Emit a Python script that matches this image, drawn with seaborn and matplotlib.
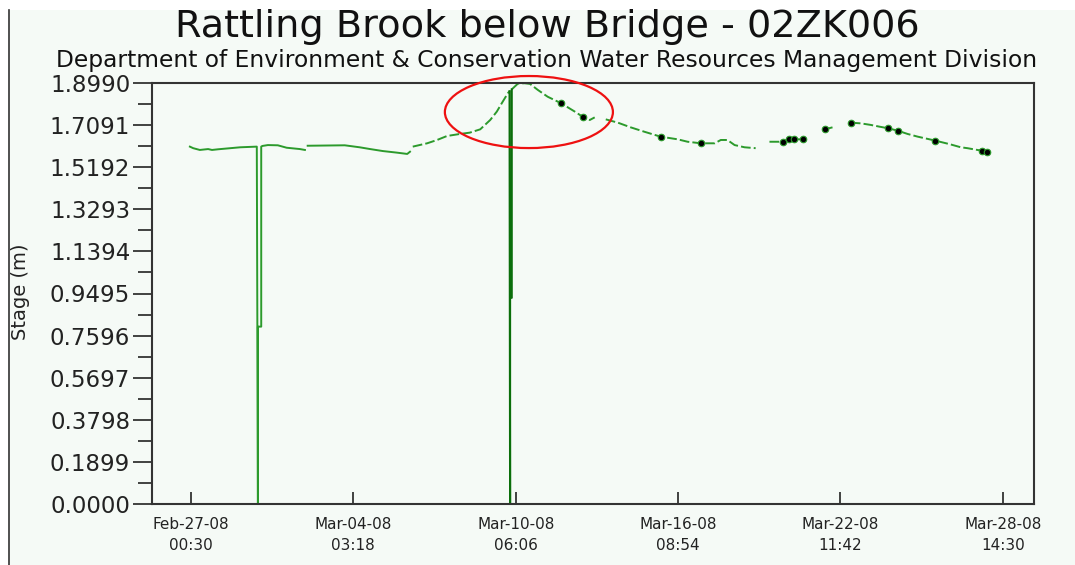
import matplotlib
matplotlib.use("Agg")
import matplotlib.pyplot as plt
import matplotlib.dates as mdates
from matplotlib.patches import Ellipse, Rectangle
from matplotlib.lines import Line2D
import numpy as np
import pandas as pd
import seaborn as sns

# ---- Stage record for Rattling Brook below Bridge (02ZK006) ----
# Each logged segment is kept separate so gaps in the record stay visible.
seg_a_times = ["2008-02-26 23:30", "2008-02-27 02:30", "2008-02-27 08:30", "2008-02-27 16:00",
               "2008-02-27 19:30", "2008-02-28 01:00", "2008-02-28 21:00", "2008-02-29 12:00",
               "2008-02-29 13:00", "2008-02-29 13:00", "2008-02-29 16:00", "2008-02-29 16:00",
               "2008-02-29 17:00", "2008-02-29 22:00", "2008-03-01 07:00", "2008-03-01 15:00",
               "2008-03-02 03:00", "2008-03-02 07:30"]
seg_a_stage = [1.612, 1.605, 1.597, 1.601, 1.597, 1.600, 1.609, 1.612,
               0.000, 0.800, 0.800, 1.612, 1.615, 1.619, 1.618, 1.607, 1.601, 1.597]

seg_b_times = ["2008-03-02 10:00", "2008-03-03 19:30", "2008-03-04 09:00", "2008-03-04 18:30",
               "2008-03-05 06:00", "2008-03-05 18:30", "2008-03-06 04:00", "2008-03-06 06:30"]
seg_b_stage = [1.616, 1.618, 1.609, 1.601, 1.592, 1.585, 1.579, 1.589]

seg_c_times = ["2008-03-06 09:00", "2008-03-06 22:00", "2008-03-07 07:00", "2008-03-07 16:00",
               "2008-03-08 03:30", "2008-03-08 12:30", "2008-03-08 22:00", "2008-03-09 07:00",
               "2008-03-09 13:00", "2008-03-09 17:30", "2008-03-09 23:00", "2008-03-10 00:30"]
seg_c_stage = [1.612, 1.627, 1.642, 1.660, 1.669, 1.675, 1.690, 1.732,
               1.770, 1.808, 1.853, 1.862]

# sensor dropout during the peak
drop_times = ["2008-03-10 00:30", "2008-03-10 01:00", "2008-03-10 01:00",
              "2008-03-10 02:30", "2008-03-10 02:30"]
drop_stage = [1.862, 0.000, 0.930, 0.930, 1.870]

seg_d_times = ["2008-03-10 02:30", "2008-03-10 05:00", "2008-03-10 08:00", "2008-03-10 14:00",
               "2008-03-10 19:00", "2008-03-11 02:00", "2008-03-11 11:00", "2008-03-11 23:00",
               "2008-03-12 11:30", "2008-03-12 18:30", "2008-03-13 01:00", "2008-03-13 05:30"]
seg_d_stage = [1.870, 1.882, 1.896, 1.898, 1.895, 1.868, 1.837, 1.808,
               1.770, 1.747, 1.732, 1.744]

seg_e_times = ["2008-03-13 15:30", "2008-03-14 02:30", "2008-03-14 14:00", "2008-03-15 02:30",
               "2008-03-15 17:00", "2008-03-16 08:30", "2008-03-16 17:30", "2008-03-17 05:30",
               "2008-03-17 18:00", "2008-03-17 23:30", "2008-03-18 05:30", "2008-03-18 12:00",
               "2008-03-18 21:00", "2008-03-19 07:00"]
seg_e_stage = [1.735, 1.720, 1.699, 1.679, 1.657, 1.645, 1.634, 1.627,
               1.627, 1.642, 1.642, 1.619, 1.609, 1.605]

seg_f_times = ["2008-03-19 19:30", "2008-03-20 03:00", "2008-03-20 07:30", "2008-03-20 13:00",
               "2008-03-20 17:30", "2008-03-21 01:30"]
seg_f_stage = [1.634, 1.634, 1.634, 1.645, 1.645, 1.645]

seg_g_times = ["2008-03-21 21:30", "2008-03-22 04:30"]
seg_g_stage = [1.690, 1.699]

seg_h_times = ["2008-03-22 21:00", "2008-03-23 06:00", "2008-03-23 15:00", "2008-03-23 23:00",
               "2008-03-24 06:30", "2008-03-24 15:30", "2008-03-25 00:30", "2008-03-25 09:30",
               "2008-03-26 01:30", "2008-03-26 14:30", "2008-03-27 00:30", "2008-03-27 06:30",
               "2008-03-27 15:30", "2008-03-27 20:00", "2008-03-28 00:00"]
seg_h_stage = [1.720, 1.717, 1.710, 1.702, 1.695, 1.684, 1.669, 1.657,
               1.639, 1.623, 1.609, 1.605, 1.597, 1.594, 1.587]

# manual field readings
obs_times = ["2008-03-11 23:00", "2008-03-12 18:30", "2008-03-15 17:00", "2008-03-17 05:30",
             "2008-03-20 07:30", "2008-03-20 13:00", "2008-03-20 17:30", "2008-03-21 01:30",
             "2008-03-21 21:30", "2008-03-22 21:00", "2008-03-24 06:30", "2008-03-24 15:30",
             "2008-03-26 01:30", "2008-03-27 20:00", "2008-03-28 00:00"]
obs_stage = [1.808, 1.747, 1.657, 1.627, 1.634, 1.645, 1.645, 1.645,
             1.690, 1.720, 1.695, 1.684, 1.639, 1.594, 1.587]

tick_times = ["2008-02-27 00:30", "2008-03-04 03:18", "2008-03-10 06:06",
              "2008-03-16 08:54", "2008-03-22 11:42", "2008-03-28 14:30"]
tick_labels = ["Feb-27-08\n00:30", "Mar-04-08\n03:18", "Mar-10-08\n06:06",
               "Mar-16-08\n08:54", "Mar-22-08\n11:42", "Mar-28-08\n14:30"]
y_ticks = [0.0, 0.1899, 0.3798, 0.5697, 0.7596, 0.9495, 1.1394, 1.3293, 1.5192, 1.7091, 1.8990]


def frame(groups):
    parts = []
    for i, (t, v) in enumerate(groups):
        parts.append(pd.DataFrame({"time": pd.to_datetime(t), "stage": v, "seg": i}))
    return pd.concat(parts, ignore_index=True)


solid = frame([(seg_a_times, seg_a_stage), (seg_b_times, seg_b_stage)])
dashed = frame([(seg_c_times, seg_c_stage), (seg_d_times, seg_d_stage),
                (seg_e_times, seg_e_stage), (seg_f_times, seg_f_stage),
                (seg_g_times, seg_g_stage), (seg_h_times, seg_h_stage)])
drop = frame([(drop_times, drop_stage)])
obs = pd.DataFrame({"time": pd.to_datetime(obs_times), "stage": obs_stage})

W, H = 1075, 565
bg = "#f5faf6"
line_green = "#2c9a2c"

fig = plt.figure(figsize=(W / 100, H / 100), dpi=100, facecolor="white")
fig.patches.append(Rectangle((8 / W, 0), 1 - 8 / W, 1 - 10 / H, transform=fig.transFigure,
                             facecolor=bg, edgecolor="none", zorder=-10))
fig.lines.append(Line2D([8.5 / W, 8.5 / W], [0, 1 - 10 / H], transform=fig.transFigure,
                        color="#333333", lw=1.2))

ax = fig.add_axes([152 / W, 1 - 504 / H, (1034 - 152) / W, (504 - 83) / H])
ax.set_facecolor(bg)

sns.lineplot(data=solid, x="time", y="stage", units="seg", estimator=None, sort=False,
             color=line_green, lw=1.4, ax=ax)
sns.lineplot(data=dashed, x="time", y="stage", units="seg", estimator=None, sort=False,
             color=line_green, lw=1.4, linestyle=(0, (5, 1.6)), ax=ax)
sns.lineplot(data=drop, x="time", y="stage", units="seg", estimator=None, sort=False,
             color="#0b6e0b", lw=1.5, ax=ax)
sns.scatterplot(data=obs, x="time", y="stage", color="black", s=22,
                edgecolor="#2c9a2c", linewidth=0.8, zorder=5, ax=ax)

ax.set_xlim(pd.Timestamp("2008-02-25 13:15"), pd.Timestamp("2008-03-29 18:40"))
ax.set_ylim(0, 1.899)

ax.set_xticks(pd.to_datetime(tick_times))
ax.set_xticklabels(tick_labels, fontsize=11, linespacing=1.45)
ax.set_yticks(y_ticks)
ax.set_yticklabels([f"{v:.4f}" for v in y_ticks], fontsize=16.5)
ax.set_yticks([(a + b) / 2 for a, b in zip(y_ticks[:-1], y_ticks[1:])], minor=True)
ax.tick_params(axis="x", direction="in", length=8.6, width=1.2, pad=9.5, colors="#222222")
ax.tick_params(axis="y", which="major", direction="out", length=13.7, width=1.2, pad=2,
               colors="#222222")
ax.tick_params(axis="y", which="minor", direction="out", length=10, width=1.2, colors="#222222")
ax.tick_params(axis="x", which="minor", length=0)

for sp in ax.spines.values():
    sp.set_color("#333333")
    sp.set_linewidth(1.5)

ax.set_xlabel("")
ax.set_ylabel("Stage (m)", fontsize=14, color="#222222")
ax.yaxis.set_label_coords((30 - 152) / (1034 - 152), (504 - 292) / (504 - 83))

# highlight around the flood peak
peak_center = mdates.date2num(pd.Timestamp("2008-03-10 18:00"))
ax.add_patch(Ellipse((peak_center, 1.768), width=6.33, height=0.325, fill=False,
                     edgecolor="#ee1111", lw=1.6, clip_on=False, zorder=6))

fig.text(547 / W, 1 - 37 / H, "Rattling Brook below Bridge - 02ZK006", ha="center",
         va="baseline", fontsize=27.5, color="#111111")
fig.text(547 / W, 1 - 67 / H,
         "Department of Environment & Conservation Water Resources Management Division",
         ha="center", va="baseline", fontsize=16.8, color="#111111")

fig.savefig("out.png", dpi=100, facecolor=fig.get_facecolor())
